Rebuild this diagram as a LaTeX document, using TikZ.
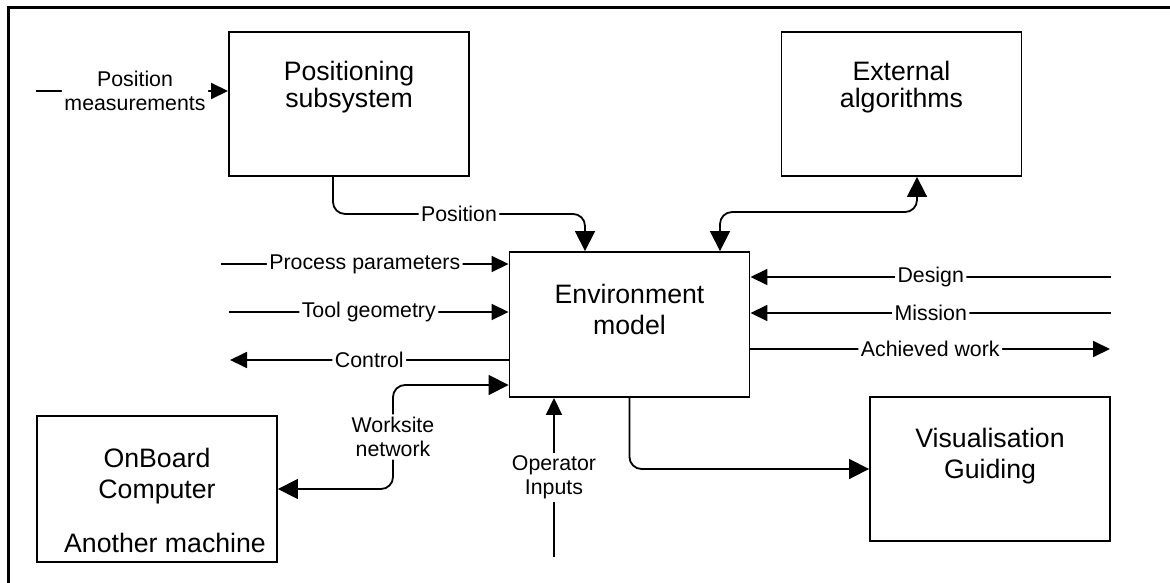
\documentclass[tikz,border=0pt]{standalone}
\usepackage{fontspec}
\setmainfont{Liberation Sans}
\usetikzlibrary{arrows.meta}

\tikzset{
  box/.style={draw, line width=1.9pt, minimum width=240pt, minimum height=144pt,
    inner sep=0pt, align=center, font=\fontsize{26.67}{31}\selectfont},
  tightbox/.style={box, font=\fontsize{26.67}{27}\selectfont},
  note/.style={inner sep=0pt, font=\fontsize{26.67}{31}\selectfont},
  lbl/.style={fill=white, inner sep=2.5pt, align=center,
    font=\fontsize{21.33}{24.5}\selectfont},
  wire/.style={line width=1.8pt, rounded corners=12pt},
  stip/.style={-{Triangle[length=17pt,width=16pt]}},
  btip/.style={-{Triangle[length=20pt,width=20pt]}},
  bboth/.style={{Triangle[length=20pt,width=20pt]}-{Triangle[length=20pt,width=20pt]}},
}

\begin{document}
\begin{tikzpicture}[x=1pt,y=-1pt]
\useasboundingbox (0,0) rectangle (1170,583);

% outer frame, running off the right and bottom edges
\begin{scope}
  \clip (0,0) rectangle (1170,583);
  \draw[line width=3pt] (8.5,7.5) rectangle (1200,620);
\end{scope}

% blocks
\node[tightbox] (psub) at (349,104)   {Positioning\\subsystem\\[11.5pt]\phantom{X}};
\node[tightbox] (ext)  at (901.5,104) {External\\algorithms\\[11.5pt]\phantom{X}};
\node[box, minimum height=145pt] (env) at (629.5,324.5) {Environment\\model\\\phantom{X}};
\node[box, minimum height=146pt] (onb) at (157,489) {OnBoard\\Computer\\\phantom{X}};
\node[note] (anm) at (165,543) {Another machine};
\node[box] (vis)  at (990,469)   {Visualisation\\Guiding\\\phantom{X}};

% free ends of the external flows
\coordinate (pmIn)  at (36,91);
\coordinate (ppIn)  at (221,264);
\coordinate (tgIn)  at (229,312);
\coordinate (ctOut) at (230,360);
\coordinate (opIn)  at (554,557);
\coordinate (dsIn)  at (1111,277);
\coordinate (msIn)  at (1111,313);
\coordinate (awOut) at (1110,349);
\coordinate (wsTap) at (393,385);

% flows
\draw[wire, stip] (pmIn) -- node[lbl, xshift=3pt]{Position\\measurements} (psub.west |- pmIn);
\draw[wire, btip] ([xshift=-16pt]psub.south) -- ++(0,37)
  -| node[lbl, pos=0.25]{Position} ([xshift=-44.5pt]env.north);
\draw[wire, bboth] ([xshift=90.5pt]env.north) -- ++(0,-39) -| ([xshift=15.5pt]ext.south);

\draw[wire, stip] (ppIn) -- node[lbl]{Process parameters} (env.west |- ppIn);
\draw[wire, stip] (tgIn) -- node[lbl]{Tool geometry} (env.west |- tgIn);
\draw[wire, stip] (env.west |- ctOut) -- node[lbl]{Control} (ctOut);
\draw[wire, bboth] (onb.east) -| node[lbl, pos=0.75]{Worksite\\network} (wsTap) -- (env.west |- wsTap);

\draw[wire, stip] (opIn) -- node[lbl]{Operator\\Inputs} (env.south -| opIn);

\draw[wire, stip] (dsIn) -- node[lbl]{Design} (env.east |- dsIn);
\draw[wire, stip] (msIn) -- node[lbl]{Mission} (env.east |- msIn);
\draw[wire, stip] (env.east |- awOut) -- node[lbl]{Achieved work} (awOut);

\draw[wire, btip] (env.south) |- (vis.west);
\end{tikzpicture}
\end{document}
